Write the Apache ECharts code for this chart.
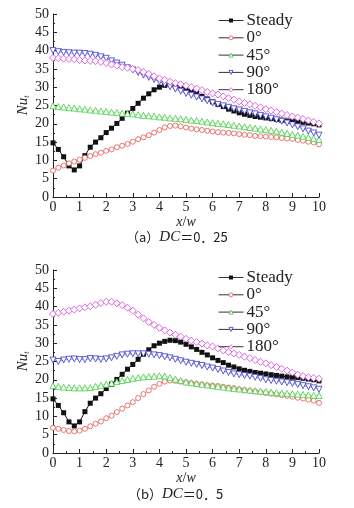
<!DOCTYPE html>
<html>
<head>
<meta charset="utf-8">
<script src="https://cdn.jsdelivr.net/npm/echarts@6/dist/echarts.min.js"></script>
<style>
  html, body { margin: 0; padding: 0; background: #fff; }
  #main { width: 354px; height: 508px; }
</style>
</head>
<body>
<div id="main"></div>
<script>
var xPos = [0, 0.2, 0.4, 0.6, 0.8, 1, 1.2, 1.4, 1.6, 1.8,
    2, 2.2, 2.4, 2.6, 2.8, 3, 3.2, 3.4, 3.6, 3.8,
    4, 4.2, 4.4, 4.6, 4.8, 5, 5.2, 5.4, 5.6, 5.8,
    6, 6.2, 6.4, 6.6, 6.8, 7, 7.2, 7.4, 7.6, 7.8,
    8, 8.2, 8.4, 8.6, 8.8, 9, 9.2, 9.4, 9.6, 9.8, 10];

var seriesNames = ['Steady', '0°', '45°', '90°', '180°'];

// steady case is the same in both panels
var steady = [14.8, 13.0, 11.0, 8.5, 7.4, 8.5, 11.3, 13.6, 15.0, 16.2,
    17.6, 18.8, 20.1, 21.5, 22.9, 24.2, 25.6, 27.0, 28.2, 29.3,
    30.0, 30.5, 30.8, 30.7, 30.3, 29.7, 29.0, 28.3, 27.5, 26.8,
    26.0, 25.3, 24.7, 24.0, 23.5, 23.0, 22.6, 22.3, 22.0, 21.8,
    21.6, 21.4, 21.2, 21.0, 20.8, 20.7, 20.6, 20.4, 20.2, 20.0, 19.7];

// (a) DC = 0.25
var a0 = [7.2, 8.0, 8.6, 9.2, 9.7, 10.2, 10.7, 11.2, 11.7, 12.1,
    12.6, 13.0, 13.6, 14.0, 14.5, 15.1, 15.8, 16.3, 16.9, 17.6,
    18.3, 19.0, 19.4, 19.5, 19.3, 19.0, 18.7, 18.5, 18.3, 18.1,
    17.9, 17.7, 17.6, 17.5, 17.4, 17.2, 17.0, 16.9, 16.7, 16.6,
    16.5, 16.4, 16.3, 16.1, 16.0, 15.9, 15.6, 15.4, 15.1, 14.9, 14.4];
var a45 = [24.9, 24.7, 24.6, 24.4, 24.3, 24.1, 24.0, 23.8, 23.7, 23.5,
    23.4, 23.2, 23.1, 22.9, 22.8, 22.7, 22.5, 22.3, 22.2, 22.1,
    21.9, 21.8, 21.6, 21.5, 21.4, 21.2, 21.0, 20.9, 20.7, 20.5,
    20.3, 20.1, 20.0, 19.8, 19.6, 19.4, 19.2, 19.0, 18.8, 18.6,
    18.4, 18.2, 18.0, 17.7, 17.4, 17.1, 16.9, 16.6, 16.3, 16.0, 15.7];
var a90 = [40.0, 39.7, 39.5, 39.4, 39.3, 39.3, 39.2, 39.0, 38.7, 38.3,
    37.9, 37.2, 36.6, 36.0, 35.3, 34.7, 34.0, 33.3, 32.7, 32.1,
    31.5, 30.8, 30.1, 29.5, 28.9, 28.3, 27.8, 27.3, 26.8, 26.3,
    25.7, 25.3, 24.9, 24.5, 24.1, 23.8, 23.4, 23.0, 22.7, 22.3,
    21.9, 21.5, 21.1, 20.7, 20.2, 19.7, 19.2, 18.6, 18.0, 17.5, 16.9];
var a180 = [38.0, 37.9, 37.8, 37.7, 37.6, 37.4, 37.3, 37.2, 37.1, 36.9,
    36.6, 36.2, 35.9, 35.5, 35.3, 35.0, 34.7, 34.2, 33.6, 33.0,
    32.4, 32.0, 31.5, 31.1, 30.8, 30.4, 30.0, 29.6, 29.2, 28.7,
    28.3, 28.0, 27.5, 27.0, 26.6, 26.1, 25.7, 25.3, 24.9, 24.5,
    24.0, 23.6, 23.2, 22.8, 22.4, 22.0, 21.7, 21.3, 20.9, 20.5, 20.1];

// (b) DC = 0.5
var b0 = [6.9, 6.6, 6.3, 6.0, 5.9, 6.1, 6.6, 7.3, 8.0, 8.6,
    9.5, 10.2, 11.2, 12.1, 13.0, 13.9, 15.0, 16.1, 17.1, 18.1,
    18.9, 19.5, 19.8, 19.7, 19.5, 19.3, 19.1, 18.9, 18.7, 18.5,
    18.4, 18.3, 18.1, 17.9, 17.7, 17.4, 17.2, 17.0, 16.8, 16.6,
    16.4, 16.2, 16.0, 15.8, 15.6, 15.4, 15.1, 14.9, 14.6, 14.3, 13.7];
var b45 = [18.4, 18.2, 18.0, 17.9, 17.8, 17.8, 17.8, 17.9, 18.2, 18.5,
    18.8, 19.1, 19.5, 19.8, 20.1, 20.4, 20.6, 20.8, 20.9, 21.0,
    21.1, 21.0, 20.6, 20.2, 19.8, 19.4, 19.2, 19.0, 18.8, 18.6,
    18.4, 18.2, 18.0, 17.8, 17.6, 17.5, 17.3, 17.2, 17.0, 16.9,
    16.8, 16.6, 16.5, 16.4, 16.3, 16.2, 16.1, 16.0, 15.9, 15.8, 15.7];
var b90 = [25.4, 25.0, 25.4, 25.6, 25.7, 25.5, 25.5, 25.8, 25.7, 25.6,
    25.7, 26.0, 26.4, 26.8, 27.0, 27.1, 27.1, 27.1, 27.0, 26.8,
    26.6, 26.3, 26.0, 25.6, 25.2, 24.8, 24.5, 24.2, 23.9, 23.5,
    23.2, 22.8, 22.4, 22.0, 21.6, 21.4, 21.2, 21.0, 20.7, 20.4,
    20.0, 19.8, 19.6, 19.4, 19.2, 19.0, 18.7, 18.4, 18.1, 17.8, 17.4];
var b180 = [38.0, 38.3, 38.6, 38.9, 39.2, 39.5, 39.8, 40.1, 40.5, 41.0,
    41.3, 41.3, 40.9, 40.4, 39.7, 38.9, 37.8, 36.8, 35.8, 35.0,
    34.2, 33.5, 32.9, 32.3, 31.8, 31.2, 30.7, 30.3, 29.9, 29.4,
    29.1, 28.6, 28.0, 27.6, 27.2, 26.8, 26.3, 25.9, 25.4, 24.9,
    24.5, 24.0, 23.5, 23.0, 22.5, 22.0, 21.4, 21.0, 20.7, 20.5, 20.3];

var FONT = '"Liberation Serif", "DejaVu Serif", serif';
var CJK = '"Noto Sans CJK SC", sans-serif';

// marker looks: steady is filled black, the others are hollow
var styles = [
    { color: '#111', fill: '#111', symbol: 'rect', size: 5, rotate: 0 },
    { color: '#e0584f', fill: '#fff', symbol: 'circle', size: 5, rotate: 0 },
    { color: '#45cc45', fill: '#fff', symbol: 'triangle', size: 6, rotate: 0 },
    { color: '#3838c8', fill: '#fff', symbol: 'triangle', size: 6, rotate: 180 },
    { color: '#d048d6', fill: '#fff', symbol: 'diamond', size: 7, rotate: 0 }
];

function pairs(ys) {
    return ys.map(function (y, i) { return [xPos[i], y]; });
}

function makeSeries(values, idx) {
    return values.map(function (v, k) {
        var s = styles[k];
        return {
            name: seriesNames[k],
            type: 'line',
            xAxisIndex: idx,
            yAxisIndex: idx,
            data: pairs(v),
            symbol: s.symbol,
            symbolSize: s.size,
            symbolRotate: s.rotate,
            showAllSymbol: true,
            itemStyle: { color: s.fill, borderColor: s.color, borderWidth: k === 0 ? 0 : 0.8 },
            lineStyle: { color: s.color, width: k === 0 ? 1 : 0.5 },
            animation: false
        };
    });
}

function xAxis(idx) {
    return {
        type: 'value', gridIndex: idx, min: 0, max: 10, interval: 1,
        name: '{i|x}/{i|w}', nameLocation: 'middle', nameGap: 18,
        nameTextStyle: { fontFamily: FONT, fontSize: 14, color: '#222', rich: { i: { fontStyle: 'italic', fontFamily: FONT, fontSize: 14 } } },
        axisLine: { lineStyle: { color: '#222', width: 1 } },
        axisTick: { inside: true, length: 4, lineStyle: { color: '#222' } },
        minorTick: { show: true, splitNumber: 2, length: 2, lineStyle: { color: '#222' } },
        splitLine: { show: false },
        axisLabel: { fontFamily: FONT, fontSize: 14, color: '#222', margin: 3 }
    };
}

function yAxis(idx) {
    return {
        type: 'value', gridIndex: idx, min: 0, max: 50, interval: 5,
        name: '{i|Nu}{s|t}', nameLocation: 'middle', nameGap: 22, nameRotate: 90,
        nameMoveOverlap: false,
        nameTextStyle: { fontFamily: FONT, fontSize: 15, color: '#222',
            rich: { i: { fontStyle: 'italic', fontFamily: FONT, fontSize: 15 }, s: { fontStyle: 'italic', fontFamily: FONT, fontSize: 8, verticalAlign: 'bottom', padding: [8, 0, 0, 0] } } },
        axisLine: { show: true, lineStyle: { color: '#222', width: 1 } },
        axisTick: { show: true, inside: true, length: 4, lineStyle: { color: '#222' } },
        minorTick: { show: true, splitNumber: 2, length: 2, lineStyle: { color: '#222' } },
        splitLine: { show: false },
        axisLabel: { fontFamily: FONT, fontSize: 14, color: '#222', margin: 4 }
    };
}

function legend(top) {
    return {
        data: seriesNames.map(function (n, k) {
            var s = styles[k];
            return { name: n, itemStyle: { color: s.fill, borderColor: s.color, borderWidth: k === 0 ? 0 : 0.8 } };
        }),
        orient: 'vertical', left: 213, top: top,
        itemWidth: 25, itemHeight: 5, itemGap: 0.3,
        lineStyle: { color: '#333', width: 1 },
        textStyle: { fontFamily: FONT, fontSize: 17, color: '#222', lineHeight: 13, padding: [0, 0, 0, -2] },
        selectedMode: false
    };
}

var chart = echarts.init(document.getElementById('main'), null, { renderer: 'canvas' });
chart.setOption({
    backgroundColor: '#fff',
    animation: false,
    grid: [
        { left: 53, right: 35, top: 14, height: 183 },
        { left: 53, right: 35, top: 270, height: 183 }
    ],
    xAxis: [xAxis(0), xAxis(1)],
    yAxis: [yAxis(0), yAxis(1)],
    legend: [legend(7), legend(264)],
    graphic: [
        { type: 'text', left: 126, top: 230, style: { text: '（a）{i|DC}＝0．25', font: '13px ' + CJK, fill: '#222', rich: { i: { fontStyle: 'italic', fontFamily: FONT, fontSize: 15 } } } },
        { type: 'text', left: 128, top: 487, style: { text: '（b）{i|DC}＝0．5', font: '13px ' + CJK, fill: '#222', rich: { i: { fontStyle: 'italic', fontFamily: FONT, fontSize: 15 } } } }
    ],
    series: makeSeries([steady, a0, a45, a90, a180], 0)
        .concat(makeSeries([steady, b0, b45, b90, b180], 1))
});
</script>
</body>
</html>
